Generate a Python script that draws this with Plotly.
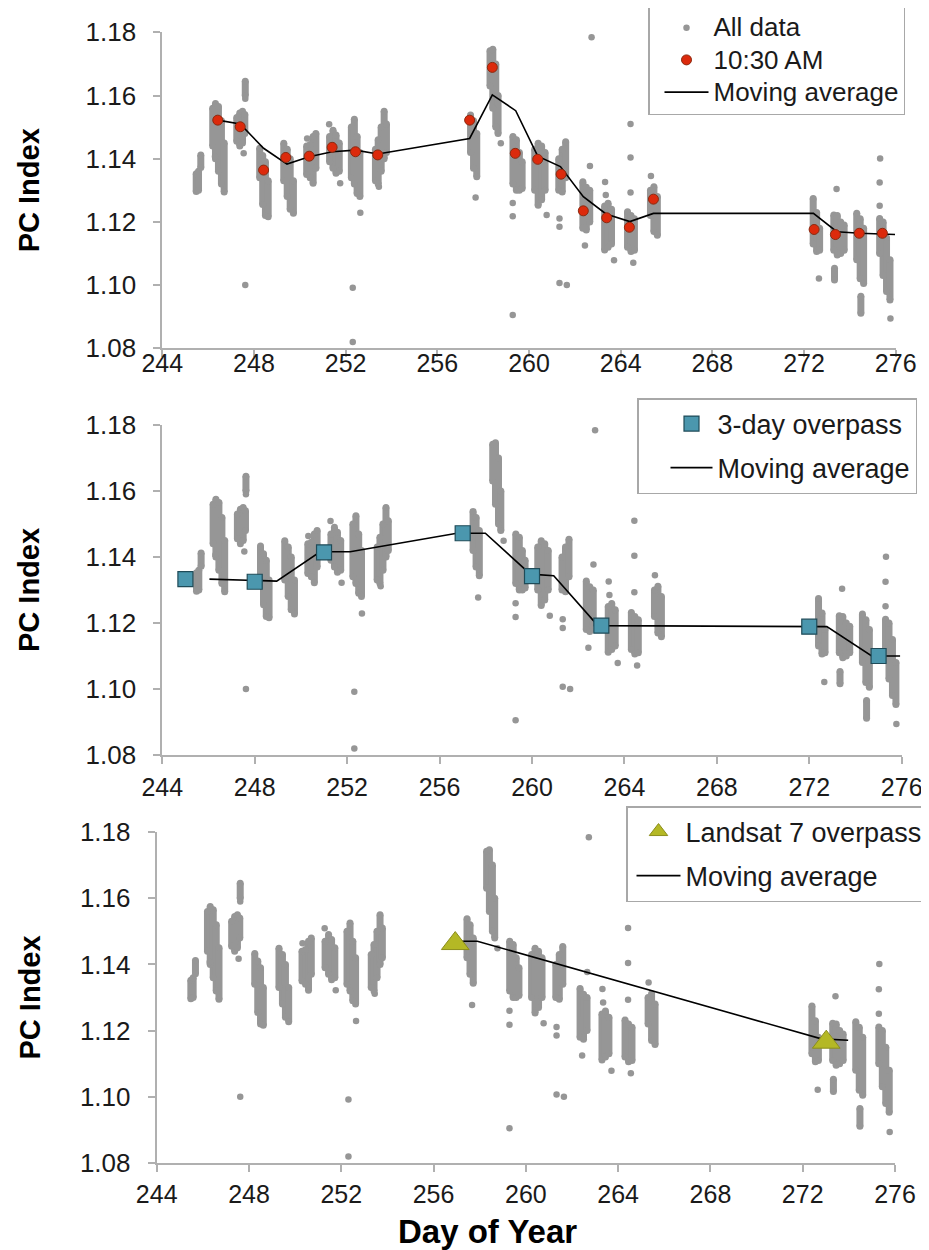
import plotly.graph_objects as go

# The page body adds an 8 px margin; the figure is sized so that it fills
# the 929x1250 window exactly, and every reference pixel position is shifted.
WIN_W, WIN_H = 929, 1250
OFF = 8
FIG_W, FIG_H = WIN_W - OFF, WIN_H - OFF

# ---------------- data ----------------
x_ticks = [244, 248, 252, 256, 260, 264, 268, 272, 276]
y_ticks = [1.08, 1.10, 1.12, 1.14, 1.16, 1.18]

# "All data": dense daily clusters, given as time slices with low/high PC index
band_day = [245.48, 245.58, 245.68,
            246.20, 246.32, 246.45, 246.58, 246.70,
            247.25, 247.38, 247.50, 247.60, 247.62,
            248.25, 248.38, 248.50, 248.62,
            249.30, 249.45, 249.58, 249.72,
            250.30, 250.45, 250.58, 250.70,
            251.30, 251.45, 251.58, 251.72,
            252.25, 252.38, 252.50, 252.62,
            253.30, 253.42, 253.55, 253.68, 253.78,
            257.45, 257.58, 257.72,
            258.30, 258.42, 258.55, 258.65,
            259.30, 259.45, 259.58, 259.70,
            260.25, 260.40, 260.55, 260.70,
            261.30, 261.45, 261.60,
            262.35, 262.50, 262.65,
            263.30, 263.45, 263.60,
            264.30, 264.45, 264.60,
            265.30, 265.45, 265.60,
            272.40, 272.55, 272.68,
            273.30, 273.45, 273.60, 273.75, 273.33,
            274.30, 274.45, 274.60, 274.48,
            275.30, 275.45, 275.60, 275.75]
band_lo = [1.1296, 1.1300, 1.1372,
           1.1440, 1.1400, 1.1360, 1.1320, 1.1295,
           1.1455, 1.1440, 1.1450, 1.1480, 1.1600,
           1.1340, 1.1255, 1.1220, 1.1216,
           1.1330, 1.1280, 1.1240, 1.1227,
           1.1350, 1.1340, 1.1322, 1.1370,
           1.1390, 1.1370, 1.1354, 1.1360,
           1.1340, 1.1320, 1.1290, 1.1280,
           1.1330, 1.1320, 1.1360, 1.1400, 1.1420,
           1.1420, 1.1370, 1.1343,
           1.1630, 1.1560, 1.1500, 1.1480,
           1.1320, 1.1300, 1.1300, 1.1306,
           1.1300, 1.1253, 1.1270, 1.1300,
           1.1300, 1.1295, 1.1340,
           1.1180, 1.1174, 1.1200,
           1.1111, 1.1120, 1.1130,
           1.1120, 1.1106, 1.1110,
           1.1220, 1.1170, 1.1158,
           1.1130, 1.1106, 1.1110,
           1.1110, 1.1095, 1.1100, 1.1110, 1.1016,
           1.1080, 1.1020, 1.1005, 1.0911,
           1.1100, 1.1030, 1.0980, 1.0953]
band_hi = [1.1352, 1.1360, 1.1412,
           1.1560, 1.1575, 1.1565, 1.1520, 1.1450,
           1.1530, 1.1545, 1.1550, 1.1540, 1.1645,
           1.1433, 1.1410, 1.1390, 1.1330,
           1.1449, 1.1430, 1.1400, 1.1330,
           1.1440, 1.1445, 1.1470, 1.1480,
           1.1470, 1.1490, 1.1475, 1.1450,
           1.1500, 1.1525, 1.1470, 1.1420,
           1.1430, 1.1460, 1.1500, 1.1550, 1.1510,
           1.1538, 1.1520, 1.1480,
           1.1742, 1.1746, 1.1700, 1.1600,
           1.1470, 1.1460, 1.1420, 1.1390,
           1.1430, 1.1449, 1.1440, 1.1420,
           1.1400, 1.1430, 1.1454,
           1.1327, 1.1310, 1.1300,
           1.1250, 1.1259, 1.1240,
           1.1232, 1.1220, 1.1210,
           1.1300, 1.1311, 1.1280,
           1.1274, 1.1230, 1.1180,
           1.1222, 1.1220, 1.1200, 1.1190, 1.1053,
           1.1227, 1.1210, 1.1180, 1.0965,
           1.1211, 1.1200, 1.1150, 1.1080]

# "All data": isolated points
point_day = [246.30, 247.62, 247.55, 247.62, 250.32, 251.28, 251.76,
             252.64, 252.31, 252.31, 253.45, 257.67, 258.77,
             259.29, 259.29, 259.29, 260.77,
             261.33, 261.33, 261.33, 261.65,
             262.66, 262.44, 262.73, 263.32, 263.35, 263.71,
             264.43, 264.43, 264.43, 264.55, 265.32,
             272.65, 273.42, 275.32, 275.30, 275.30, 275.77]
point_val = [1.1407, 1.1590, 1.1417, 1.1000, 1.1464, 1.1509, 1.1322,
             1.1229, 1.0992, 1.0820, 1.1311, 1.1277, 1.1449,
             1.1260, 1.1218, 1.0905, 1.1222,
             1.1211, 1.1185, 1.1007, 1.1000,
             1.1377, 1.1125, 1.1784, 1.1326, 1.1285, 1.1079,
             1.1510, 1.1404, 1.1293, 1.1071, 1.1345,
             1.1021, 1.1304, 1.1401, 1.1325, 1.1251, 1.0894]

# 10:30 AM samples
am_day = [246.42, 247.40, 248.42, 249.39, 250.41, 251.41, 252.43, 253.40,
          257.41, 258.40, 259.40, 260.38, 261.40, 262.37, 263.39, 264.38,
          265.43, 272.44, 273.37, 274.41, 275.42]
am_val = [1.1522, 1.1501, 1.1364, 1.1404, 1.1408, 1.1436, 1.1422, 1.1412,
          1.1522, 1.1689, 1.1417, 1.1398, 1.1351, 1.1235, 1.1213, 1.1183,
          1.1272, 1.1176, 1.1160, 1.1164, 1.1164]
ma1_day = [246.42, 247.40, 248.42, 249.44, 250.41, 251.41, 252.43, 253.40,
           257.41, 258.40, 259.42, 260.38, 261.37, 262.37, 263.36, 264.40,
           265.43, 272.41, 273.43, 274.44, 275.97]
ma1_val = [1.1522, 1.1510, 1.1433, 1.1383, 1.1406, 1.1422, 1.1427, 1.1415,
           1.1464, 1.1602, 1.1552, 1.1408, 1.1375, 1.1280, 1.1225, 1.1201,
           1.1227, 1.1227, 1.1169, 1.1164, 1.1160]

# 3-day overpass
over3_day = [245, 248, 251, 257, 260, 263, 272, 275]
over3_val = [1.1333, 1.1325, 1.1414, 1.1472, 1.1342, 1.1192, 1.1189, 1.1100]
ma2_day = [246.04, 248.95, 250.83, 252.13, 256.75, 257.98, 259.93, 260.94,
           262.85, 272.76, 274.70, 275.93]
ma2_val = [1.1333, 1.1327, 1.1416, 1.1416, 1.1472, 1.1472, 1.1348, 1.1343,
           1.1192, 1.1189, 1.1100, 1.1100]

# Landsat 7 overpass
ls7_day = [256.94, 273.02]
ls7_val = [1.1463, 1.1165]
ma3_day = [256.96, 257.90, 272.81, 273.97]
ma3_val = [1.1470, 1.1470, 1.1175, 1.1171]

# ---------------- styling ----------------
GRAY = "#969696"
AXIS = "#b0b0b0"
TXT = "#1a1a1a"
FONT = "Liberation Sans"


def px_x(p):
    return (p - OFF) / FIG_W


def px_y(p):
    return 1 - (p - OFF) / FIG_H


def big(name, size):
    return f'<span style="font-size:{size}px">{name}</span>'


# panel geometry (reference pixels): x-left, x-right, y-top(1.18), y-bottom(1.08)
panels = [
    (162.3, 895.7, 32.3, 348.3),
    (162.3, 901.7, 425.0, 755.0),
    (156.7, 895.0, 832.0, 1163.0),
]

band_x, band_y = [], []
for d, lo, hi in zip(band_day, band_lo, band_hi):
    band_x += [d, d, None]
    band_y += [lo, hi, None]

fig = go.Figure()


def add_common(i, show_all_legend):
    xa = "x" if i == 0 else f"x{i + 1}"
    ya = "y" if i == 0 else f"y{i + 1}"
    lg = "legend" if i == 0 else f"legend{i + 1}"
    fig.add_trace(go.Scatter(
        x=band_x, y=band_y, xaxis=xa, yaxis=ya, mode="lines+markers",
        line=dict(color=GRAY, width=7), marker=dict(color=GRAY, size=7),
        showlegend=False, hoverinfo="skip", legend=lg))
    fig.add_trace(go.Scatter(
        x=point_day, y=point_val, xaxis=xa, yaxis=ya, mode="markers",
        marker=dict(color=GRAY, size=6.5), name=big("All data", 26),
        showlegend=show_all_legend, legend=lg, legendrank=1,
        legendgroup=f"all{i}"))
    return xa, ya, lg


# panel 1
xa, ya, lg = add_common(0, True)
fig.add_trace(go.Scatter(x=ma1_day, y=ma1_val, xaxis=xa, yaxis=ya, mode="lines",
                         line=dict(color="black", width=1.6),
                         name=big("Moving average", 26),
                         legend=lg, legendrank=3, legendgroup="ma1"))
fig.add_trace(go.Scatter(x=am_day, y=am_val, xaxis=xa, yaxis=ya, mode="markers",
                         marker=dict(color="#dc2a0c", size=10,
                                     line=dict(color="#8a2a10", width=1)),
                         name=big("10:30 AM", 26), legend=lg, legendrank=2,
                         legendgroup="am"))

# panel 2
xa, ya, lg = add_common(1, False)
fig.add_trace(go.Scatter(x=ma2_day, y=ma2_val, xaxis=xa, yaxis=ya, mode="lines",
                         line=dict(color="black", width=1.6), name="Moving average",
                         legend=lg, legendrank=3, legendgroup="ma2"))
fig.add_trace(go.Scatter(x=over3_day, y=over3_val, xaxis=xa, yaxis=ya, mode="markers",
                         marker=dict(color="#4b97ae", size=15, symbol="square",
                                     line=dict(color="#1f4b58", width=1.2)),
                         name="3-day overpass", legend=lg, legendrank=2,
                         legendgroup="o3"))

# panel 3
xa, ya, lg = add_common(2, False)
fig.add_trace(go.Scatter(x=ma3_day, y=ma3_val, xaxis=xa, yaxis=ya, mode="lines",
                         line=dict(color="black", width=1.6), name="Moving average",
                         legend=lg, legendrank=3, legendgroup="ma3"))
fig.add_trace(go.Scatter(x=ls7_day, y=ls7_val, xaxis=xa, yaxis=ya, mode="markers",
                         marker=dict(color="#b4b825", size=24, symbol="triangle-up",
                                     line=dict(color="#8b8d1c", width=1)),
                         name="Landsat 7 overpass", legend=lg, legendrank=2,
                         legendgroup="ls"))

layout = dict(
    width=FIG_W, height=FIG_H,
    margin=dict(l=0, r=0, t=0, b=0, autoexpand=False),
    paper_bgcolor="white", plot_bgcolor="white",
    font=dict(family=FONT, size=26, color=TXT),
)

x_standoff = [-15, 2, 1]
for i, (xl, xr, yt, yb) in enumerate(panels):
    sx = "" if i == 0 else str(i + 1)
    layout[f"xaxis{sx}"] = dict(
        domain=[px_x(xl), px_x(xr)], range=[244, 276],
        anchor=f"y{sx}", tickvals=x_ticks, ticktext=[str(v) for v in x_ticks],
        showline=True, linecolor=AXIS, linewidth=2, showgrid=False, zeroline=False,
        ticks="outside", ticklen=7, tickwidth=2, tickcolor=AXIS,
        tickfont=dict(family=FONT, size=25, color=TXT),
        ticklabelstandoff=x_standoff[i], fixedrange=True)
    layout[f"yaxis{sx}"] = dict(
        domain=[px_y(yb), px_y(yt)], range=[1.08, 1.18],
        anchor=f"x{sx}", tickvals=y_ticks, ticktext=[f"{v:.2f}" for v in y_ticks],
        showline=True, linecolor=AXIS, linewidth=2, showgrid=False, zeroline=False,
        ticks="outside", ticklen=7, tickwidth=2, tickcolor=AXIS,
        tickfont=dict(family=FONT, size=26, color=TXT),
        ticklabelstandoff=12, fixedrange=True)

leg_common = dict(xanchor="left", yanchor="top", bgcolor="white",
                  bordercolor="#a8a8a8", borderwidth=1.5)
layout["legend"] = dict(leg_common, x=px_x(648), y=px_y(5), itemwidth=44,
                        indentation=10, tracegroupgap=0,
                        font=dict(family=FONT, size=22.5, color=TXT))
layout["legend2"] = dict(leg_common, x=px_x(637), y=px_y(398), itemwidth=42,
                         indentation=27, tracegroupgap=6,
                         font=dict(family=FONT, size=27, color=TXT))
layout["legend3"] = dict(leg_common, x=px_x(626), y=px_y(806), itemwidth=44,
                         indentation=4, tracegroupgap=6,
                         font=dict(family=FONT, size=27, color=TXT))

title_font = dict(family=FONT, size=29, color="black", weight="bold")
annotations = []
for (xl, xr, yt, yb) in panels:
    annotations.append(dict(text="PC Index", textangle=-90, xref="paper", yref="paper",
                            x=px_x(29), y=px_y((yt + yb) / 2), showarrow=False,
                            xanchor="center", yanchor="middle", font=title_font))
annotations.append(dict(text="Day of Year", xref="paper", yref="paper",
                        x=px_x(487), y=px_y(1231), showarrow=False,
                        xanchor="center", yanchor="middle",
                        font=dict(family=FONT, size=33, color="black", weight="bold")))
layout["annotations"] = annotations

fig.update_layout(**layout)
fig.write_html("out.html")
